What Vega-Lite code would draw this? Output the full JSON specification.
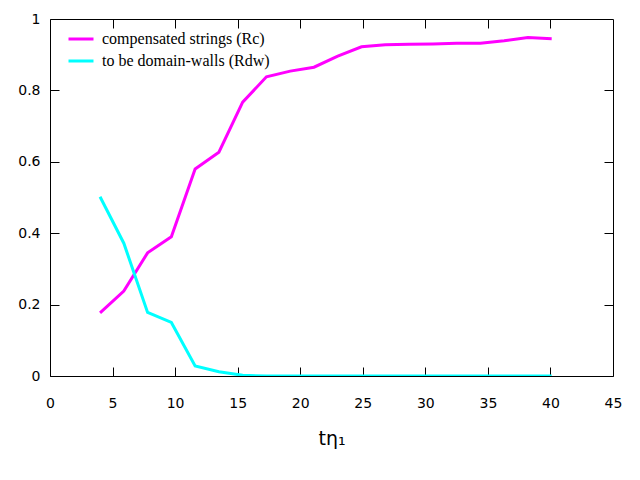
{
  "$schema": "https://vega.github.io/schema/vega-lite/v6.json",
  "width": 563,
  "height": 357,
  "autosize": {"type": "none"},
  "padding": {"left": 50, "top": 19, "right": 27, "bottom": 104},
  "background": "white",
  "data": {
    "values": [
      {"t": 4.0, "R": 0.177, "s": "compensated strings (Rc)"},
      {"t": 5.9, "R": 0.238, "s": "compensated strings (Rc)"},
      {"t": 7.8, "R": 0.345, "s": "compensated strings (Rc)"},
      {"t": 9.7, "R": 0.390, "s": "compensated strings (Rc)"},
      {"t": 11.6, "R": 0.580, "s": "compensated strings (Rc)"},
      {"t": 13.5, "R": 0.627, "s": "compensated strings (Rc)"},
      {"t": 15.4, "R": 0.767, "s": "compensated strings (Rc)"},
      {"t": 17.3, "R": 0.838, "s": "compensated strings (Rc)"},
      {"t": 19.2, "R": 0.854, "s": "compensated strings (Rc)"},
      {"t": 21.1, "R": 0.865, "s": "compensated strings (Rc)"},
      {"t": 23.0, "R": 0.896, "s": "compensated strings (Rc)"},
      {"t": 24.9, "R": 0.922, "s": "compensated strings (Rc)"},
      {"t": 26.8, "R": 0.928, "s": "compensated strings (Rc)"},
      {"t": 28.7, "R": 0.929, "s": "compensated strings (Rc)"},
      {"t": 30.6, "R": 0.930, "s": "compensated strings (Rc)"},
      {"t": 32.5, "R": 0.932, "s": "compensated strings (Rc)"},
      {"t": 34.4, "R": 0.932, "s": "compensated strings (Rc)"},
      {"t": 36.3, "R": 0.939, "s": "compensated strings (Rc)"},
      {"t": 38.2, "R": 0.948, "s": "compensated strings (Rc)"},
      {"t": 40.1, "R": 0.945, "s": "compensated strings (Rc)"},
      {"t": 4.0, "R": 0.502, "s": "to be domain-walls (Rdw)"},
      {"t": 5.9, "R": 0.372, "s": "to be domain-walls (Rdw)"},
      {"t": 7.8, "R": 0.178, "s": "to be domain-walls (Rdw)"},
      {"t": 9.7, "R": 0.150, "s": "to be domain-walls (Rdw)"},
      {"t": 11.6, "R": 0.028, "s": "to be domain-walls (Rdw)"},
      {"t": 13.5, "R": 0.012, "s": "to be domain-walls (Rdw)"},
      {"t": 15.4, "R": 0.002, "s": "to be domain-walls (Rdw)"},
      {"t": 17.3, "R": 0.0, "s": "to be domain-walls (Rdw)"},
      {"t": 19.2, "R": 0.0, "s": "to be domain-walls (Rdw)"},
      {"t": 21.1, "R": 0.0, "s": "to be domain-walls (Rdw)"},
      {"t": 23.0, "R": 0.0, "s": "to be domain-walls (Rdw)"},
      {"t": 24.9, "R": 0.0, "s": "to be domain-walls (Rdw)"},
      {"t": 26.8, "R": 0.0, "s": "to be domain-walls (Rdw)"},
      {"t": 28.7, "R": 0.0, "s": "to be domain-walls (Rdw)"},
      {"t": 30.6, "R": 0.0, "s": "to be domain-walls (Rdw)"},
      {"t": 32.5, "R": 0.0, "s": "to be domain-walls (Rdw)"},
      {"t": 34.4, "R": 0.0, "s": "to be domain-walls (Rdw)"},
      {"t": 36.3, "R": 0.0, "s": "to be domain-walls (Rdw)"},
      {"t": 38.2, "R": 0.0, "s": "to be domain-walls (Rdw)"},
      {"t": 40.1, "R": 0.0, "s": "to be domain-walls (Rdw)"}
    ]
  },
  "layer": [
    {
      "mark": {"type": "line", "strokeWidth": 3, "clip": true},
      "encoding": {
        "x": {
          "field": "t", "type": "quantitative",
          "scale": {"domain": [0, 45], "nice": false},
          "axis": {"orient": "bottom", "values": [0, 5, 10, 15, 20, 25, 30, 35, 40, 45], "title": "tη₁"}
        },
        "y": {
          "field": "R", "type": "quantitative",
          "scale": {"domain": [0, 1], "nice": false},
          "axis": {"orient": "left", "values": [0, 0.2, 0.4, 0.6, 0.8, 1], "format": "~g", "title": null}
        },
        "color": {
          "field": "s", "type": "nominal",
          "scale": {"domain": ["compensated strings (Rc)", "to be domain-walls (Rdw)"], "range": ["#ff00ff", "#00ffff"]},
          "legend": {
            "title": null, "orient": "none", "legendX": 17, "legendY": 6,
            "symbolType": "stroke", "symbolSize": 625, "symbolStrokeWidth": 3,
            "labelFont": "Liberation Serif",
            "labelLimit": 0, "labelOffset": 7, "rowPadding": -3, "padding": 0
          }
        }
      }
    },
    {
      "mark": {"type": "line", "opacity": 0},
      "encoding": {
        "x": {
          "field": "t", "type": "quantitative",
          "axis": {"orient": "top", "values": [5, 10, 15, 20, 25, 30, 35, 40], "labels": false, "title": null}
        },
        "y": {
          "field": "R", "type": "quantitative",
          "axis": {"orient": "right", "values": [0.2, 0.4, 0.6, 0.8], "labels": false, "title": null}
        },
        "detail": {"field": "s"}
      }
    }
  ],
  "resolve": {"axis": {"x": "independent", "y": "independent"}},
  "config": {
    "view": {"stroke": "black", "strokeWidth": 1},
    "legend": {"labelFontSize": 16, "labelColor": "black"},
    "axis": {
      "grid": false, "domain": false, "tickColor": "black", "tickSize": -9, "tickWidth": 1,
      "labelFont": "DejaVu Sans", "labelFontSize": 14, "labelColor": "black",
      "titleFont": "DejaVu Sans", "titleFontSize": 19, "titleFontWeight": "normal", "titleColor": "black"
    },
    "axisX": {"labelPadding": 29, "titlePadding": 19, "labelFlush": false},
    "axisY": {"labelPadding": 19, "labelFlush": false}
  }
}
